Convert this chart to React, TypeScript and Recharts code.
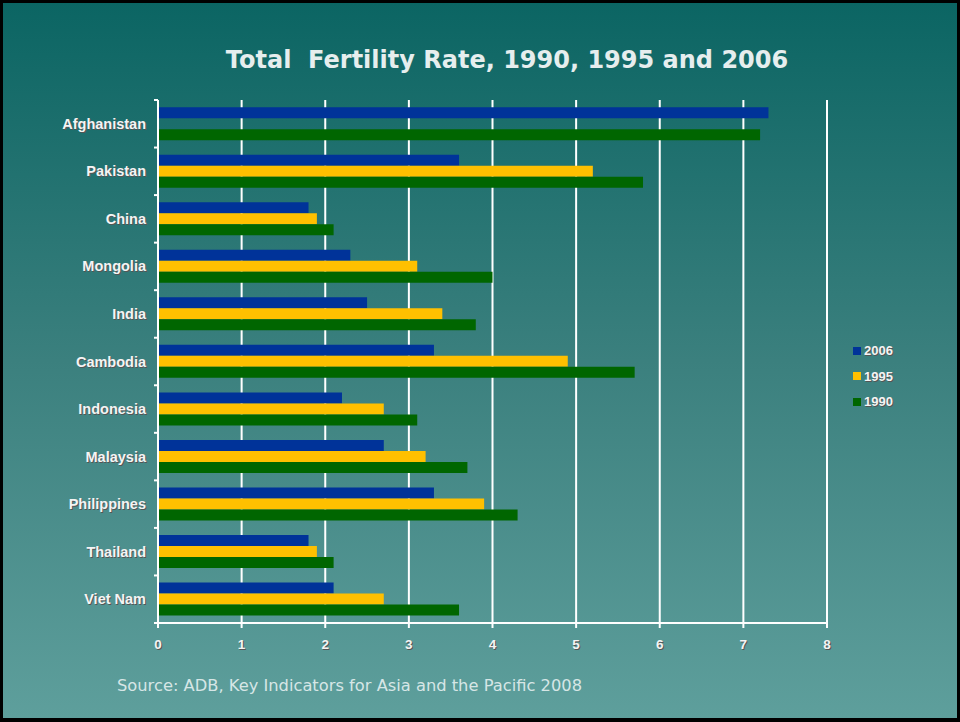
import React from 'react'
import { BarChart, Bar, XAxis, YAxis, CartesianGrid, Legend } from 'recharts'

const countries = ['Afghanistan', 'Pakistan', 'China', 'Mongolia', 'India', 'Cambodia', 'Indonesia', 'Malaysia', 'Philippines', 'Thailand', 'Viet Nam']
const tfr2006 = [7.3, 3.6, 1.8, 2.3, 2.5, 3.3, 2.2, 2.7, 3.3, 1.8, 2.1]
const tfr1995 = [null, 5.2, 1.9, 3.1, 3.4, 4.9, 2.7, 3.2, 3.9, 1.9, 2.7]
const tfr1990 = [7.2, 5.8, 2.1, 4.0, 3.8, 5.7, 3.1, 3.7, 4.3, 2.1, 3.6]
const xTicks = [0, 1, 2, 3, 4, 5, 6, 7, 8]

const series = [
  { key: 'y2006', name: '2006', color: '#003399' },
  { key: 'y1995', name: '1995', color: '#ffc000' },
  { key: 'y1990', name: '1990', color: '#006600' },
]

const data = countries.map((c, i) => ({
  country: c,
  y2006: tfr2006[i],
  y1995: tfr1995[i],
  y1990: tfr1990[i],
}))

const W = 960
const H = 722
const M = { top: 100, right: 133, bottom: 69, left: 0 }
const BAND = (H - M.top - M.bottom - 30) / countries.length

const labelFont = '"Liberation Sans", Arial, sans-serif'

function ShadowText({ x, y, anchor, size, children }: any) {
  return (
    <g>
      <text x={x + 1} y={y + 1} textAnchor={anchor} fontFamily={labelFont} fontWeight="bold" fontSize={size} fill="#555">
        {children}
      </text>
      <text x={x} y={y} textAnchor={anchor} fontFamily={labelFont} fontWeight="bold" fontSize={size} fill="#f4f4f4">
        {children}
      </text>
    </g>
  )
}

function CountryTick(props: any) {
  const { x, y, payload, index } = props
  const last = index === countries.length - 1
  return (
    <g>
      <line x1={x + 4} x2={x + 8} y1={y - BAND / 2} y2={y - BAND / 2} stroke="#fff" strokeWidth={2} />
      {last && <line x1={x + 4} x2={x + 8} y1={y + BAND / 2} y2={y + BAND / 2} stroke="#fff" strokeWidth={2} />}
      <ShadowText x={x - 4} y={y + 5} anchor="end" size={14.5}>{payload.value}</ShadowText>
    </g>
  )
}

function ValueTick(props: any) {
  const { x, y, payload } = props
  return <ShadowText x={x} y={y + 19} anchor="middle" size={13.5}>{payload.value}</ShadowText>
}

function LegendBox() {
  return (
    <div>
      {series.map((s) => (
        <div key={s.key} style={{ display: 'flex', alignItems: 'center', height: 25.5 }}>
          <span style={{ width: 8, height: 8, background: s.color, display: 'inline-block', marginRight: 3 }} />
          <span
            style={{
              fontFamily: labelFont,
              fontWeight: 'bold',
              fontSize: 13,
              color: '#f4f4f4',
              textShadow: '1px 1px 0 #555',
            }}
          >
            {s.name}
          </span>
        </div>
      ))}
    </div>
  )
}

export default function App() {
  return (
    <div
      style={{
        position: 'relative',
        width: W,
        height: H,
        boxSizing: 'border-box',
        borderStyle: 'solid',
        borderColor: '#000',
        borderWidth: '3px 3px 4px 3px',
        background: 'linear-gradient(to bottom, #0b6563 0%, #3b807e 50%, #5e9f9c 100%)',
        overflow: 'hidden',
      }}
    >
      <style>{`body{margin:0}`}</style>
      <div
        style={{
          position: 'absolute',
          left: 0,
          right: 0,
          top: 43,
          textAlign: 'center',
          paddingLeft: 54,
          fontFamily: '"DejaVu Sans", Verdana, sans-serif',
          fontWeight: 'bold',
          fontSize: 24,
          color: '#e6eeee',
          whiteSpace: 'pre',
        }}
      >
        {'Total  Fertility Rate, 1990, 1995 and 2006'}
      </div>
      <div
        style={{
          position: 'absolute',
          left: 114,
          top: 673,
          fontFamily: '"DejaVu Sans", Verdana, sans-serif',
          fontSize: 16.3,
          color: '#d6e6e6',
        }}
      >
        Source: ADB, Key Indicators for Asia and the Pacific 2008
      </div>
      <div style={{ position: 'absolute', left: -3, top: -3 }}>
        <BarChart
          width={W}
          height={H}
          data={data}
          layout="vertical"
          margin={M}
          barCategoryGap="15%"
          barGap={0}
        >
          <CartesianGrid horizontal={false} vertical stroke="#ffffff" strokeWidth={2} />
          <XAxis
            type="number"
            domain={[0, 8]}
            ticks={xTicks}
            interval={0}
            height={30}
            stroke="#ffffff"
            strokeWidth={2}
            tickSize={5}
            tick={<ValueTick />}
          />
          <YAxis
            type="category"
            dataKey="country"
            width={158}
            stroke="#ffffff"
            strokeWidth={2}
            tickLine={false}
            interval={0}
            tick={<CountryTick />}
          />
          <Legend
            layout="horizontal"
            verticalAlign="middle"
            align="center"
            content={<LegendBox />}
            wrapperStyle={{ left: 853, top: 338, width: 80 }}
          />
          {series.map((s) => (
            <Bar key={s.key} dataKey={s.key} name={s.name} fill={s.color} isAnimationActive={false} />
          ))}
        </BarChart>
      </div>
    </div>
  )
}
